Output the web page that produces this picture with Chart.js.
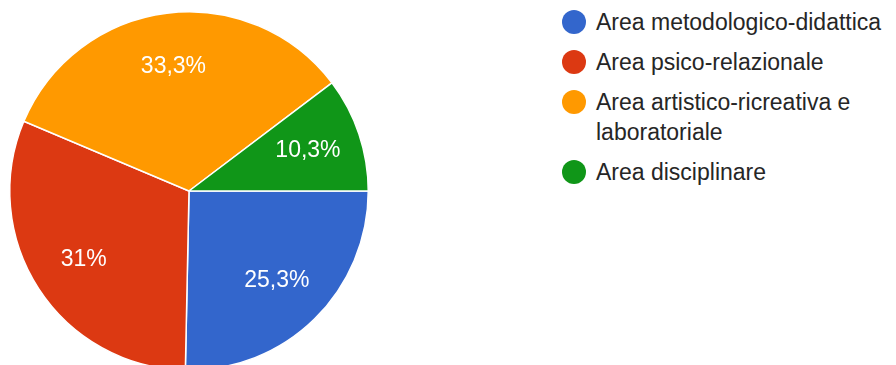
<!DOCTYPE html>
<html lang="it">
<head>
<meta charset="utf-8">
<script src="https://cdn.jsdelivr.net/npm/chart.js@4/dist/chart.umd.min.js"></script>
<style>
  html, body { margin: 0; padding: 0; background: #fff; overflow: hidden; }
  body { width: 896px; height: 365px; position: relative; font-family: "Liberation Sans", Arial, sans-serif; }
  #pie-box { position: absolute; left: -1px; top: 1px; width: 380px; height: 380px; }
  #legend { position: absolute; left: 562px; top: 7px; margin: 0; padding: 0; list-style: none; }
  #legend li { display: flex; align-items: flex-start; margin-bottom: 10px; }
  #legend .dot { flex: none; width: 24px; height: 24px; border-radius: 50%; margin-top: 3px; margin-right: 10px; }
  #legend .txt { width: 300px; font-size: 23px; line-height: 30px; color: #262626; }
</style>
</head>
<body>
<div id="pie-box"><canvas id="risposte"></canvas></div>
<ul id="legend"></ul>
<script>
const aree = [ 'Area metodologico-didattica', 'Area psico-relazionale', 'Area artistico-ricreativa e laboratoriale', 'Area disciplinare' ]
const percentuali = [ 25.3, 31, 33.3, 10.3 ]
const colori = [ '#3366cc', '#dc3912', '#ff9900', '#109618' ]

// percentage written inside each slice
const sliceLabels = {
  id: 'sliceLabels',
  afterDatasetsDraw( chart ) {
    const ctx = chart.ctx
    const meta = chart.getDatasetMeta( 0 )
    ctx.save()
    ctx.font = '23px "Liberation Sans", Arial, sans-serif'
    ctx.fillStyle = '#ffffff'
    ctx.textAlign = 'center'
    ctx.textBaseline = 'middle'
    meta.data.forEach( ( arc, i ) => {
      const { x, y, startAngle, endAngle, outerRadius } = arc.getProps( [ 'x', 'y', 'startAngle', 'endAngle', 'outerRadius' ], true )
      const mid = ( startAngle + endAngle ) / 2
      const r = outerRadius * 0.7
      const value = chart.data.datasets[ 0 ].data[ i ]
      ctx.fillText( value.toLocaleString( 'it-IT' ) + '%', x + Math.cos( mid ) * r, y + Math.sin( mid ) * r )
    } )
    ctx.restore()
  }
}

// legend as html so the long label can wrap
const htmlLegend = {
  id: 'htmlLegend',
  afterUpdate( chart ) {
    const list = document.getElementById( 'legend' )
    list.innerHTML = ''
    chart.options.plugins.legend.labels.generateLabels( chart ).forEach( item => {
      const li = document.createElement( 'li' )
      const dot = document.createElement( 'span' )
      dot.className = 'dot'
      dot.style.background = item.fillStyle
      const txt = document.createElement( 'span' )
      txt.className = 'txt'
      txt.textContent = item.text
      li.appendChild( dot )
      li.appendChild( txt )
      list.appendChild( li )
    } )
  }
}

const data = {
  labels: aree,
  datasets: [ {
    data: percentuali,
    backgroundColor: colori,
    borderColor: '#ffffff',
    borderWidth: 1.5
  } ]
}

const config = {
  type: 'pie',
  data: data,
  options: {
    responsive: true,
    maintainAspectRatio: false,
    animation: false,
    rotation: 90,
    layout: { padding: 10 },
    plugins: {
      legend: { display: false },
      tooltip: { enabled: false }
    }
  },
  plugins: [ sliceLabels, htmlLegend ]
}

const graph = new Chart( document.getElementById( 'risposte' ), config )
</script>
</body>
</html>
